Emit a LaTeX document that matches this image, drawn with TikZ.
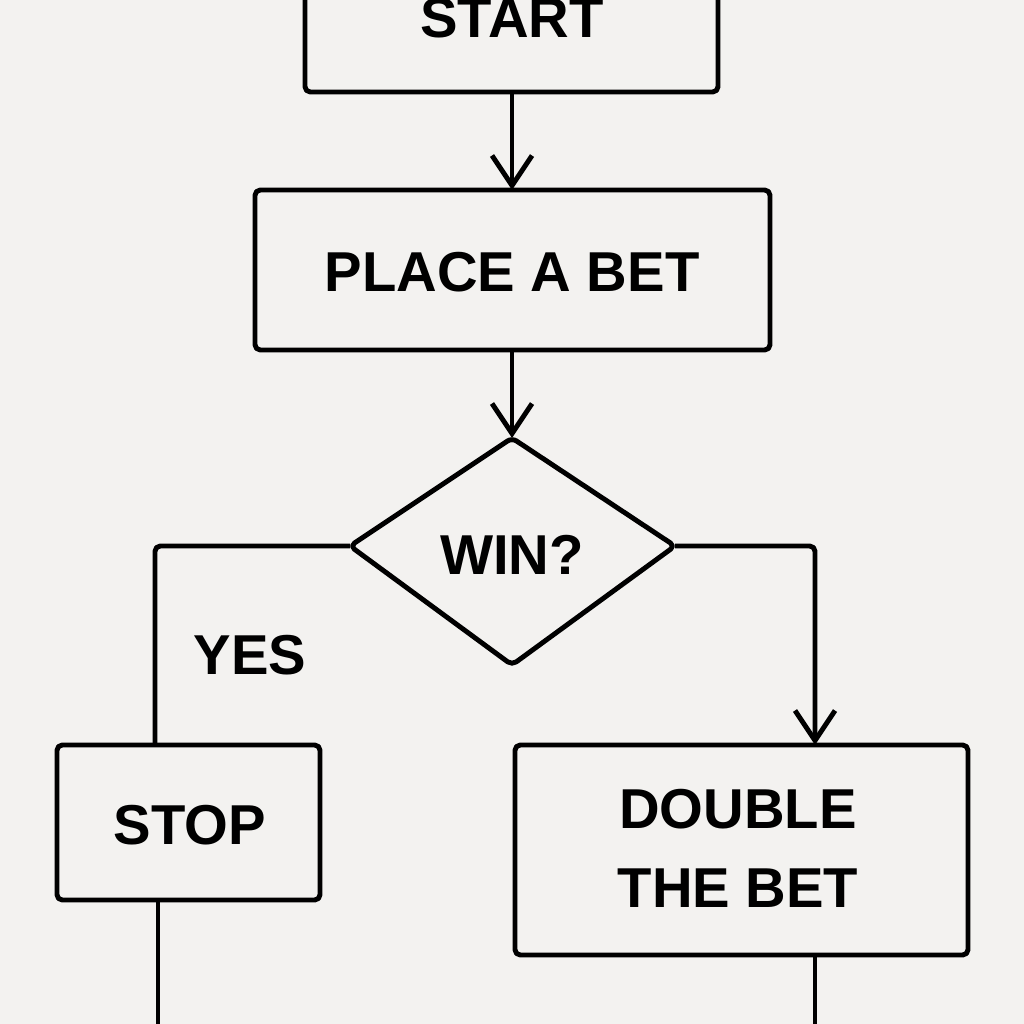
\documentclass[tikz,border=0pt]{standalone}
\usepackage{fontspec}
\setmainfont{Liberation Sans}
\usetikzlibrary{arrows.meta}
\definecolor{bg}{HTML}{F3F2F0}
\begin{document}
\begin{tikzpicture}[x=0.1mm,y=-0.1mm,
  ln/.style={line width=1.4pt,line join=round,rounded corners=1.5pt},
  lbl/.style={font=\bfseries\fontsize{16}{21}\selectfont,align=center},
  arr/.style={ln,-{Straight Barb[length=3mm,width=4mm,line width=1.4pt]}}]
\fill[bg] (0,0) rectangle (1024,1024);
\useasboundingbox (0,0) rectangle (1024,1024);
\clip (0,0) rectangle (1024,1024);
\draw[ln] (305,-30) rectangle (718,92);
\node[lbl] (start) at (512,18) {START};
\coordinate (sb) at (512,92);
\draw[ln] (255,190) rectangle (770,350);
\node[lbl] (place) at (512,272) {PLACE A BET};
\coordinate (pt) at (512,190);
\coordinate (pb) at (512,350);
\draw[ln] (512,438) -- (675,546) -- (512,665) -- (350,546) -- cycle;
\coordinate (dt) at (512,438);
\coordinate (dl) at (350,546);
\coordinate (dr) at (675,546);
\node[lbl] (win) at (512,555) {WIN?};
\draw[ln] (57,745) rectangle (320,900);
\node[lbl] (stop) at (190,825) {STOP};
\draw[ln] (515,745) rectangle (968,955);
\node[lbl] (dbl) at (738,848) {DOUBLE\\[0.5mm]THE BET};
\node[lbl] (yes) at (250,655) {YES};
\draw[arr] (sb) -- (pt);
\draw[arr] (pb) -- (dt);
\draw[ln] (dl) -- (155,546) -- (155,745);
\draw[arr] (dr) -- (815,546) -- (815,745);
\draw[ln] (158,900) -- (158,1040);
\draw[ln] (815,955) -- (815,1040);
\end{tikzpicture}
\end{document}
